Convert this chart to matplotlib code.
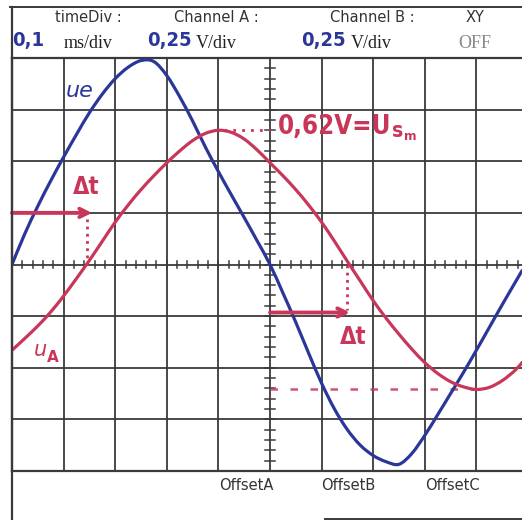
import matplotlib
matplotlib.use('Agg')
import matplotlib.pyplot as plt
from matplotlib.lines import Line2D
from matplotlib.path import Path
from matplotlib.patches import PathPatch

# sample positions in divisions (0.1 ms/div), values in divisions (0.25 V/div)
t_div = [0.00, 0.25, 0.50, 0.75, 1.00, 1.25, 1.50, 1.75, 2.00, 2.25,
         2.50, 2.75, 3.00, 3.25, 3.50, 3.75, 4.00, 4.25, 4.50, 4.75,
         5.00, 5.25, 5.50, 5.75, 6.00, 6.25, 6.50, 6.75, 7.00, 7.25,
         7.50, 7.75, 8.00, 8.25, 8.50, 8.75, 9.00, 9.25, 9.50, 9.75, 9.884]

u_e = [0.00, 0.60, 1.13, 1.62, 2.08, 2.52, 2.94, 3.30, 3.60, 3.82,
       3.95, 3.93, 3.66, 3.25, 2.78, 2.27, 1.80, 1.35, 0.91, 0.46,
       0.00, -0.55, -1.12, -1.72, -2.30, -2.80, -3.20, -3.50, -3.70, -3.82,
       -3.87, -3.66, -3.31, -2.91, -2.50, -2.09, -1.66, -1.22, -0.78, -0.35, -0.12]

u_A = [-1.66, -1.43, -1.19, -0.92, -0.61, -0.27, 0.08, 0.45, 0.82, 1.15,
       1.45, 1.72, 1.97, 2.20, 2.40, 2.54, 2.60, 2.56, 2.43, 2.22,
       1.97, 1.72, 1.45, 1.15, 0.82, 0.45, 0.06, -0.32, -0.70, -1.04,
       -1.35, -1.64, -1.90, -2.11, -2.27, -2.37, -2.42, -2.38, -2.25, -2.05, -1.90]

# hand drawn marks: delta t arrows (start, end, height) and dotted drops
dt1 = [0.0, 1.55, 1.0]
dt2 = [5.0, 6.55, -0.93]
zero_up = 1.45
zero_down = 6.5

header_top = ["timeDiv :", "Channel A :", "Channel B :", "XY"]
header_vals = ["0,1", "0,25", "0,25"]
header_units = ["ms/div", "V/div", "V/div", "OFF"]
offsets = ["OffsetA", "OffsetB", "OffsetC"]

BLUE = '#2b3798'
RED = '#c8375a'
GRID = '#3a3a3a'

W, H = 522, 520
fig = plt.figure(figsize=(W / 100, H / 100), dpi=100)
fig.patch.set_facecolor('white')

def fx(px):
    return px / W

def fy(py):
    return 1 - py / H

def smooth_path(xs, ys):
    # catmull-rom through the read points, drawn as cubic bezier segments
    pts = list(zip(xs, ys))
    verts = [pts[0]]
    codes = [Path.MOVETO]
    for i in range(len(pts) - 1):
        p0 = pts[i - 1] if i > 0 else pts[i]
        p1, p2 = pts[i], pts[i + 1]
        p3 = pts[i + 2] if i + 2 < len(pts) else pts[i + 1]
        c1 = (p1[0] + (p2[0] - p0[0]) / 6, p1[1] + (p2[1] - p0[1]) / 6)
        c2 = (p2[0] - (p3[0] - p1[0]) / 6, p2[1] - (p3[1] - p1[1]) / 6)
        verts += [c1, c2, p2]
        codes += [Path.CURVE4] * 3
    return Path(verts, codes)

# grid area: px 12..522 wide, py 58..471 high
ax = fig.add_axes([fx(12), fy(471), fx(522) - fx(12), fy(58) - fy(471)])
ax.set_xlim(0, 9.884)
ax.set_ylim(-4, 4)
ax.set_xticks([])
ax.set_yticks([])
for s in ['top', 'bottom', 'left']:
    ax.spines[s].set_color(GRID)
    ax.spines[s].set_linewidth(1.6)
ax.spines['right'].set_visible(False)

for i in range(1, 10):
    ax.axvline(i, color=GRID, lw=1.3, zorder=1)
for j in range(-3, 4):
    ax.axhline(j, color=GRID, lw=1.3, zorder=1)

# small ticks on the centre lines
for k in range(0, 50):
    x = k * 0.2
    ax.plot([x, x], [-0.07, 0.07], color=GRID, lw=1.1, zorder=1)
for k in range(-20, 21):
    y = k * 0.2
    ax.plot([4.9, 5.1], [y, y], color=GRID, lw=1.1, zorder=1)

ax.add_patch(PathPatch(smooth_path(t_div, u_e), fill=False, edgecolor=BLUE,
                       lw=2.3, capstyle='round', zorder=3))
ax.add_patch(PathPatch(smooth_path(t_div, u_A), fill=False, edgecolor=RED,
                       lw=2.3, capstyle='round', zorder=3))

# peak / trough helper lines
i_max = u_A.index(max(u_A))
i_min = u_A.index(min(u_A))
ax.plot([t_div[i_max] - 0.07, 5.0], [u_A[i_max], u_A[i_max]], color=RED, lw=2,
        ls=(0, (1, 2.2)), zorder=2)
ax.plot([5.0, t_div[i_min]], [u_A[i_min], u_A[i_min]], color=RED, lw=1.8,
        ls=(0, (3, 5)), alpha=0.85, zorder=2)

# delta t arrows
for a in (dt1, dt2):
    ax.annotate('', xy=(a[1], a[2]), xytext=(a[0], a[2]),
                arrowprops=dict(arrowstyle='->,head_length=0.6,head_width=0.3',
                                lw=2.8, color=RED, shrinkA=0, shrinkB=0), zorder=4)
ax.plot([zero_up, zero_up], [0, 0.88], color=RED, lw=2, ls=(0, (1, 1.6)), zorder=2)
ax.plot([zero_down, zero_down], [0, -0.88], color=RED, lw=2, ls=(0, (1, 1.6)), zorder=2)

# hand written labels
HAND = dict(family='DejaVu Sans', fontstretch='condensed', fontweight='bold')
fig.text(fx(86), fy(187), "Δt", color=RED, fontsize=17, ha='center', va='center', **HAND)
fig.text(fx(353), fy(337), "Δt", color=RED, fontsize=17, ha='center', va='center', **HAND)
fig.text(fx(80), fy(91), "ue", color=BLUE, fontsize=16, fontstyle='italic',
         family='DejaVu Sans', ha='center', va='center')
fig.text(fx(40), fy(350), "u", color=RED, fontsize=15, fontstyle='italic',
         family='DejaVu Sans', ha='center', va='center')
fig.text(fx(53), fy(357), "A", color=RED, fontsize=11, fontweight='bold',
         family='DejaVu Sans', ha='center', va='center')

lab = fig.text(fx(278), fy(127), "0,62V=U", color=RED, fontsize=18.5,
               ha='left', va='center', **HAND)
fig.canvas.draw()
bb = lab.get_window_extent()
lab_s = fig.text(bb.x1 / W + 0.001, fy(131), "s", color=RED, fontsize=15,
                 ha='left', va='center', **HAND)
fig.canvas.draw()
bb2 = lab_s.get_window_extent()
fig.text(bb2.x1 / W + 0.002, fy(137), "m", color=RED, fontsize=9.5,
         ha='left', va='center', **HAND)

# header box
fig.add_artist(Line2D([fx(10), fx(522)], [fy(7), fy(7)], color=GRID, lw=1.4))
fig.add_artist(Line2D([fx(11.5), fx(11.5)], [fy(7), fy(520)], color=GRID, lw=1.6))
fig.add_artist(Line2D([fx(325), fx(522)], [fy(519), fy(519)], color=GRID, lw=1.4))

for txt, cx in zip(header_top, [88, 216, 372, 475]):
    fig.text(fx(cx), fy(18), txt, color='#333333', fontsize=10.5,
             family='DejaVu Sans', ha='center', va='center')
for txt, lx in zip(header_vals, [12, 147, 301]):
    fig.text(fx(lx), fy(41), txt, color=BLUE, fontsize=14.5, ha='left', va='center', **HAND)
for txt, cx, col in zip(header_units, [88, 216, 371, 475],
                        ['#222222', '#222222', '#222222', '#888888']):
    fig.text(fx(cx), fy(43), txt, color=col, fontsize=13,
             family='Liberation Serif', ha='center', va='center')

for txt, cx in zip(offsets, [246, 348, 452]):
    fig.text(fx(cx), fy(486), txt, color='#333333', fontsize=10.5,
             family='DejaVu Sans', ha='center', va='center')

fig.savefig('out.png', dpi=100, facecolor='white')
